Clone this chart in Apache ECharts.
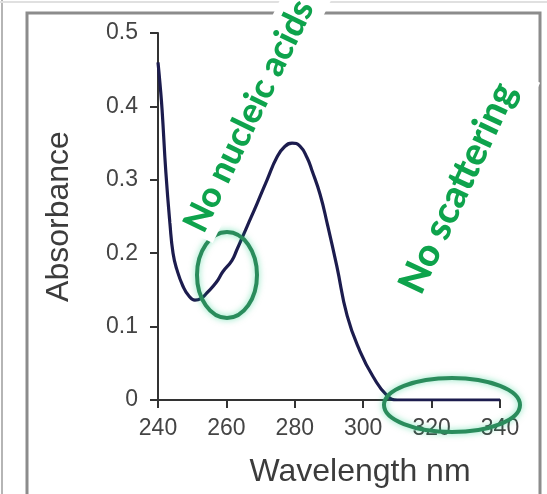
<!DOCTYPE html>
<html>
<head>
<meta charset="utf-8">
<script src="https://cdn.jsdelivr.net/npm/echarts@6/dist/echarts.min.js"></script>
<style>
html,body{margin:0;padding:0;background:#fff;}
#chart{width:547px;height:494px;}
</style>
</head>
<body>
<div id="chart"></div>
<script>
const wavelengths = [240, 240.6, 241.2, 242.3, 243.5, 244.4, 245.5, 247.3, 249, 250.8, 252.5, 254.3, 257, 259, 261.6, 263, 266, 269, 271.9, 274.8, 277, 279.2, 281.5, 283.6, 285, 287.4, 289.5, 292.3, 295.3, 299.1, 303, 307, 310, 340];
const absorbance  = [0.46, 0.43, 0.395, 0.31, 0.24, 0.20, 0.178, 0.155, 0.142, 0.136, 0.138, 0.146, 0.16, 0.175, 0.19, 0.204, 0.236, 0.268, 0.30, 0.331, 0.345, 0.35, 0.346, 0.33, 0.313, 0.28, 0.24, 0.182, 0.115, 0.066, 0.031, 0.006, 0, 0];
const xTicks = [240, 260, 280, 300, 320, 340];
const yTicks = [0, 0.1, 0.2, 0.3, 0.4, 0.5];
const xTitle = 'Wavelength nm';
const yTitle = 'Absorbance';
const note1 = 'No nucleic acids';
const note2 = 'No scattering';

const chart = echarts.init(document.getElementById('chart'), null, {renderer: 'canvas'});
const deg = Math.PI / 180;
const green = '#0ea34c';
const ringColor = '#2a8c5c';

const option = {
  animation: false,
  backgroundColor: '#fff',
  grid: {left: 158, right: 47, top: 33, bottom: 94},
  xAxis: {
    type: 'value',
    min: xTicks[0], max: xTicks[xTicks.length - 1], interval: 20,
    name: xTitle, nameLocation: 'middle', nameGap: 56,
    nameTextStyle: {fontFamily: 'Liberation Sans', fontSize: 32, color: '#3c3c3c', padding: [0, 0, 0, 62]},
    axisLine: {lineStyle: {color: '#333', width: 2}},
    axisTick: {inside: false, length: 8, lineStyle: {color: '#333', width: 2}},
    axisLabel: {margin: 17, fontFamily: 'Liberation Sans', fontSize: 23, color: '#444'},
    splitLine: {show: false}
  },
  yAxis: {
    type: 'value',
    min: yTicks[0], max: yTicks[yTicks.length - 1], interval: 0.1,
    name: yTitle, nameLocation: 'middle', nameGap: 83, nameRotate: 90,
    nameTextStyle: {fontFamily: 'Liberation Sans', fontSize: 32, color: '#3c3c3c'},
    axisLine: {show: true, lineStyle: {color: '#333', width: 2}},
    axisTick: {show: true, inside: false, length: 8, lineStyle: {color: '#333', width: 2}},
    axisLabel: {margin: 20, fontFamily: 'Liberation Sans', fontSize: 23, color: '#444'},
    splitLine: {show: false}
  },
  series: [{
    type: 'line',
    data: wavelengths.map((w, i) => [w, absorbance[i]]),
    showSymbol: false,
    smooth: 0.5,
    lineStyle: {color: '#1c1c4e', width: 3.2},
    z: 3
  }],
  graphic: [
    {type: 'rect', z: 1, shape: {x: 27, y: 13, width: 513, height: 495}, style: {fill: 'none', stroke: '#8c8c8c', lineWidth: 3}},
    {type: 'line', z: 1, shape: {x1: 2, y1: 0, x2: 2, y2: 494}, style: {stroke: '#b5b5b5', lineWidth: 2}},
    {type: 'line', z: 1, shape: {x1: 0, y1: 2, x2: 547, y2: 2}, style: {stroke: '#e0e0e0', lineWidth: 2}},
    {type: 'ellipse', z: 10, shape: {cx: 227, cy: 275, rx: 30, ry: 43},
      style: {fill: 'none', stroke: ringColor, lineWidth: 4, shadowBlur: 6, shadowColor: 'rgba(0,200,120,0.5)'}},
    {type: 'ellipse', z: 10, shape: {cx: 452, cy: 405, rx: 68, ry: 27},
      style: {fill: 'none', stroke: ringColor, lineWidth: 4, shadowBlur: 6, shadowColor: 'rgba(0,200,120,0.5)'}},
    {type: 'group', z: 20, x: 249, y: 116, rotation: 64 * deg, children: [
      {type: 'rect', z: 20, shape: {x: -130, y: -23, width: 340, height: 46}, style: {fill: '#fff'}},
      {type: 'text', z: 21, style: {text: note1, x: 0, y: 0, align: 'center', verticalAlign: 'middle',
        font: 'normal 900 35px Lato', fill: green}}
    ]},
    {type: 'group', z: 20, x: 458, y: 188, rotation: 65 * deg, children: [
      {type: 'rect', z: 20, shape: {x: -130, y: -30, width: 260, height: 60}, style: {fill: '#fff'}},
      {type: 'text', z: 21, style: {text: note2, x: 0, y: 0, align: 'center', verticalAlign: 'middle',
        font: 'normal 900 38px Lato', fill: green}}
    ]}
  ]
};
chart.setOption(option);
</script>
</body>
</html>
